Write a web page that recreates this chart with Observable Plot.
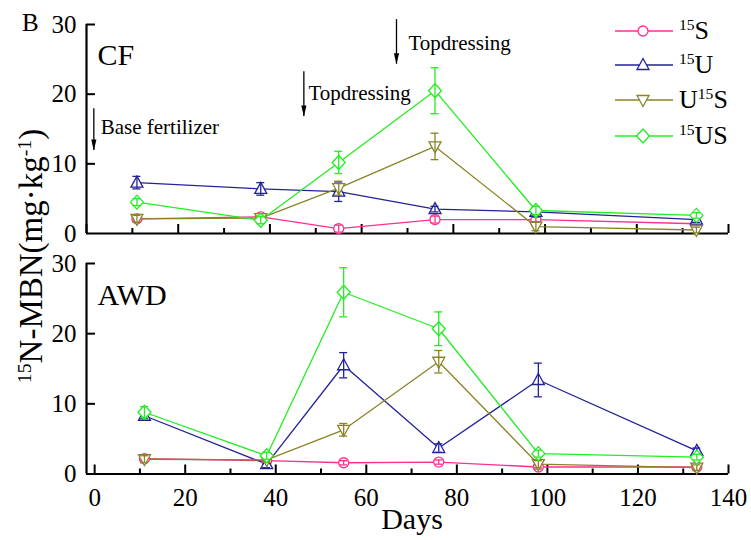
<!DOCTYPE html>
<html><head><meta charset="utf-8">
<script src="https://cdn.jsdelivr.net/npm/d3@7"></script>
<script src="https://cdn.jsdelivr.net/npm/@observablehq/plot@0.6"></script>
<style>
body{margin:0;background:#fff;}
#wrap{position:relative;width:751px;height:540px;font-family:"Liberation Serif","Times New Roman",serif;color:#000;overflow:hidden;background:#fff}
#wrap svg.plot{position:absolute;left:0;}
.lbl{position:absolute;white-space:nowrap;line-height:1}
.sup{font-size:0.6em;position:relative;top:-0.55em}
</style></head><body><div id="wrap"></div>
<script>
// ---- data ----
const days = [11, 38, 55, 76, 98, 133];
const seriesNames = ["15S", "15U", "U15S", "15US"];
const seriesColors = ["#ff2f8f", "#22229a", "#8a8428", "#22ee22"];

// CF panel values (mg/kg) and error bars
const cfS    = [2.1, 2.4, 0.7, 2.0, 2.0, 1.4];
const cfU    = [7.3, 6.4, 6.0, 3.5, 3.1, 2.0];
const cfU15S = [2.1, 2.2, 6.5, 12.5, 1.0, 0.5];
const cfUS   = [4.5, 1.9, 10.2, 20.5, 3.3, 2.6];
const cfSerr    = [0.3, 0.3, 0.5, 0.5, 0.3, 0.3];
const cfUerr    = [0.9, 0.9, 1.4, 0.4, 0.5, 0.4];
const cfU15Serr = [0.5, 0.3, 1.0, 1.9, 0.6, 0.4];
const cfUSerr   = [0.5, 0.5, 1.6, 3.3, 0.6, 0.4];

// AWD panel values and error bars
const awdS    = [2.2, 1.9, 1.6, 1.7, 1.0, 1.0];
const awdU    = [8.3, 1.4, 15.5, 3.7, 13.4, 3.3];
const awdU15S = [2.1, 2.0, 6.3, 16.0, 1.4, 0.9];
const awdUS   = [8.8, 2.6, 25.9, 20.7, 2.9, 2.4];
const awdSerr    = [0.3, 0.2, 0.3, 0.3, 0.3, 0.3];
const awdUerr    = [0.4, 0.5, 1.8, 0.6, 2.4, 0.4];
const awdU15Serr = [0.5, 0.3, 0.9, 1.6, 0.5, 0.4];
const awdUSerr   = [0.8, 0.5, 3.5, 2.4, 0.5, 0.4];

const yTicks = [0, 10, 20, 30];
const xMajor = [0, 20, 40, 60, 80, 100, 120, 140];
const xMinor = [10, 30, 50, 70, 90, 110, 130];

// annotations (CF panel): arrow day, shaft top, arrow tip, text day, text y
const annText = ["Base fertilizer", "Topdressing", "Topdressing"];
const annDay  = [1.6, 47.4, 67.6];
const annTop  = [17.9, 23.2, 30.7];
const annTip  = [11.9, 16.8, 24.3];
const annTextDay = [3.1, 48.4, 70.2];
const annTextY   = [15.3, 20.1, 27.3];

// ---- symbols ----
const symCircle = {draw(c){c.moveTo(5,0);c.arc(0,0,5,0,2*Math.PI);c.closePath();}};
const symTriUp = {draw(c){c.moveTo(0,-6.5);c.lineTo(6,4.5);c.lineTo(-6,4.5);c.closePath();}};
const symTriDown = {draw(c){c.moveTo(0,6.5);c.lineTo(6,-4.5);c.lineTo(-6,-4.5);c.closePath();}};
const symDiamond = {draw(c){c.moveTo(0,-7);c.lineTo(6.5,0);c.lineTo(0,7);c.lineTo(-6.5,0);c.closePath();}};
const symHead = {draw(c){c.moveTo(0,0);c.lineTo(2.6,-11);c.lineTo(-2.6,-11);c.closePath();}};
const symbols = [symCircle, symTriUp, symTriDown, symDiamond];

const W = 751, ML = 86, MR = 23;
const frameW = W - ML - MR;
const font = "Liberation Serif";

function rows(vals, errs) {
  return days.map((d, i) => ({day: d, v: vals[i], e: errs[i]}));
}

function panel({vals, errs, xDomain, height, marginTop, marginBottom, name, nameDy, xLabels, ann}) {
  const frameH = height - marginTop - marginBottom;
  const xmin = xDomain[0];
  const pxPerDay = frameW / (xDomain[1] - xDomain[0]);
  const capHalf = 4 / pxPerDay;
  const marks = [];
  marks.push(Plot.ruleY([0], {stroke: "#000", strokeWidth: 2.2}));
  marks.push(Plot.ruleX([xmin], {stroke: "#000", strokeWidth: 2.2}));
  marks.push(Plot.ruleX(xMajor, {x: d => d, insetTop: frameH - 9, stroke: "#000", strokeWidth: 2}));
  marks.push(Plot.ruleX(xMinor, {x: d => d, insetTop: frameH - 5, stroke: "#000", strokeWidth: 2}));
  marks.push(Plot.ruleY([10, 20, 30], {y: d => d, insetRight: frameW - 9, stroke: "#000", strokeWidth: 2}));
  marks.push(Plot.text(yTicks, {x: xmin, y: d => d, text: d => String(d), textAnchor: "end", dx: -10, fontSize: 25}));
  if (xLabels) {
    marks.push(Plot.text(xMajor, {x: d => d, y: 0, text: d => String(d), dy: 24, fontSize: 25}));
  }
  marks.push(Plot.text([name], {frameAnchor: "top-left", text: d => d, dx: 11, dy: nameDy, fontSize: 30}));
  if (ann) {
    const idx = annText.map((_, i) => i);
    marks.push(Plot.ruleX(idx, {x: i => annDay[i], y1: i => annTop[i], y2: i => annTip[i], stroke: "#000", strokeWidth: 1.3}));
    marks.push(Plot.dot(idx, {x: i => annDay[i], y: i => annTip[i], symbol: symHead, fill: "#000", stroke: "none", r: 3}));
    marks.push(Plot.text(idx, {x: i => annTextDay[i], y: i => annTextY[i], text: i => annText[i], textAnchor: "start", fontSize: 21}));
  }
  vals.forEach((v, k) => {
    marks.push(Plot.line(rows(v, errs[k]), {x: "day", y: "v", stroke: seriesColors[k], strokeWidth: 1.3}));
  });
  vals.forEach((v, k) => {
    const data = rows(v, errs[k]);
    marks.push(Plot.dot(data, {x: "day", y: "v", symbol: symbols[k], r: 5, fill: "#fff", stroke: seriesColors[k], strokeWidth: 1.3}));
    marks.push(Plot.ruleX(data, {x: "day", y1: d => d.v - d.e, y2: d => d.v + d.e, stroke: seriesColors[k], strokeWidth: 1.3}));
    marks.push(Plot.ruleY(data, {y: d => d.v + d.e, x1: d => d.day - capHalf, x2: d => d.day + capHalf, stroke: seriesColors[k], strokeWidth: 1.3}));
    marks.push(Plot.ruleY(data, {y: d => d.v - d.e, x1: d => d.day - capHalf, x2: d => d.day + capHalf, stroke: seriesColors[k], strokeWidth: 1.3}));
  });
  const svg = Plot.plot({
    width: W, height,
    marginLeft: ML, marginRight: MR, marginTop, marginBottom,
    x: {domain: xDomain, axis: null},
    y: {domain: [0, 30], axis: null},
    style: {fontFamily: font, background: "transparent", color: "#000", overflow: "visible"},
    marks
  });
  svg.classList.add("plot");
  return svg;
}

const wrap = document.getElementById("wrap");

const top1 = panel({
  vals: [cfS, cfU, cfU15S, cfUS], errs: [cfSerr, cfUerr, cfU15Serr, cfUSerr],
  xDomain: [0, 140], height: 240, marginTop: 24, marginBottom: 7,
  name: "CF", nameDy: 19, xLabels: false, ann: true
});
top1.style.top = "0px";
wrap.appendChild(top1);

const bot = panel({
  vals: [awdS, awdU, awdU15S, awdUS], errs: [awdSerr, awdUerr, awdU15Serr, awdUSerr],
  xDomain: [-1.8, 140], height: 300, marginTop: 23, marginBottom: 66.5,
  name: "AWD", nameDy: 20, xLabels: true, ann: false
});
bot.style.top = "240px";
wrap.appendChild(bot);

function addLabel(html, style) {
  const d = document.createElement("div");
  d.className = "lbl";
  d.innerHTML = html;
  Object.assign(d.style, style);
  wrap.appendChild(d);
  return d;
}
addLabel("B", {left: "22px", top: "22px", fontSize: "25px", transform: "translateY(-50%)"});
addLabel("Days", {left: "412px", top: "519px", fontSize: "30px", transform: "translate(-50%,-50%)"});
addLabel('<span class="sup">15</span>N-MBN(mg·kg<span class="sup">-1</span>)',
  {left: "31px", top: "256px", fontSize: "33px", transform: "translate(-50%,-50%) rotate(-90deg)"});

// legend
const legendY = [31, 65, 100, 136];
const legendHTML = ['<span class="sup">15</span>S', '<span class="sup">15</span>U', 'U<span class="sup">15</span>S', '<span class="sup">15</span>US'];
const ns = "http://www.w3.org/2000/svg";
const lsvg = document.createElementNS(ns, "svg");
lsvg.setAttribute("width", 70); lsvg.setAttribute("height", 160);
lsvg.style.position = "absolute"; lsvg.style.left = "608px"; lsvg.style.top = "0px";
wrap.appendChild(lsvg);
seriesNames.forEach((s, k) => {
  const y = legendY[k];
  const ln = document.createElementNS(ns, "line");
  ln.setAttribute("x1", 7); ln.setAttribute("x2", 65); ln.setAttribute("y1", y); ln.setAttribute("y2", y);
  ln.setAttribute("stroke", seriesColors[k]); ln.setAttribute("stroke-width", 1.3);
  lsvg.appendChild(ln);
  const p = document.createElementNS(ns, "path");
  const path = d3.path();
  symbols[k].draw(path);
  p.setAttribute("d", path.toString());
  p.setAttribute("transform", `translate(35,${y})`);
  p.setAttribute("fill", "#fff"); p.setAttribute("stroke", seriesColors[k]); p.setAttribute("stroke-width", 1.3);
  lsvg.appendChild(p);
  addLabel(legendHTML[k], {left: "679px", top: y + "px", fontSize: "26px", transform: "translateY(-50%)"});
});
</script></body></html>
